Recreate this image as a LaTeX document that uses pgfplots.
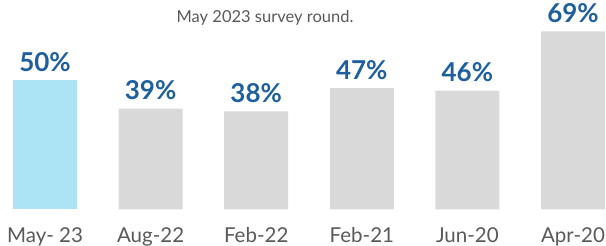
\documentclass[border=0pt]{standalone}
\usepackage{pgfplots}
\pgfplotsset{compat=1.18}
\usepackage{fontspec}
\setmainfont{Lato}
\definecolor{barblue}{HTML}{ADE4F5}
\definecolor{bargray}{HTML}{D9D9D9}
\definecolor{lblblue}{HTML}{1F5F9E}
\definecolor{txtgray}{HTML}{595959}
\begin{document}
\begin{tikzpicture}
\begin{axis}[
  at={(-7.8pt,36.7pt)}, anchor=south west,
  x=105.6pt, y=2.58pt,
  xmin=-0.5, xmax=5.5, ymin=0, ymax=75,
  axis line style={draw=none},
  ytick=\empty,
  xtick={0,1,2,3,4,5},
  xticklabels={May- 23, Aug-22, Feb-22, Feb-21, Jun-20, Apr-20},
  major tick length=0pt,
  xticklabel style={font=\fontsize{20.5}{21}\selectfont, text=txtgray, anchor=base, yshift=-33.4pt, inner sep=0pt},
  clip=false,
  /pgf/number format/assume math mode=true,
  ybar, bar width=64pt, bar shift=0pt,
  nodes near coords={\pgfmathprintnumber{\pgfplotspointmeta}\%},
  every node near coord/.append style={font=\fontseries{b}\fontsize{26}{27}\selectfont, text=lblblue, anchor=base, inner sep=0pt, yshift=9pt},
]
\addplot[fill=barblue, draw=none] coordinates {(0,50)};
\addplot[fill=bargray, draw=none] coordinates {(1,39) (2,38) (3,47) (4,46) (5,69)};
\end{axis}
\node[anchor=base, text=txtgray, font=\fontsize{16.5}{18}\selectfont, inner sep=0pt] at (265pt,223.3pt) {May 2023 survey round.};
\pgfresetboundingbox
\path[use as bounding box] (0,0) rectangle (606pt,246pt);
\end{tikzpicture}
\end{document}
